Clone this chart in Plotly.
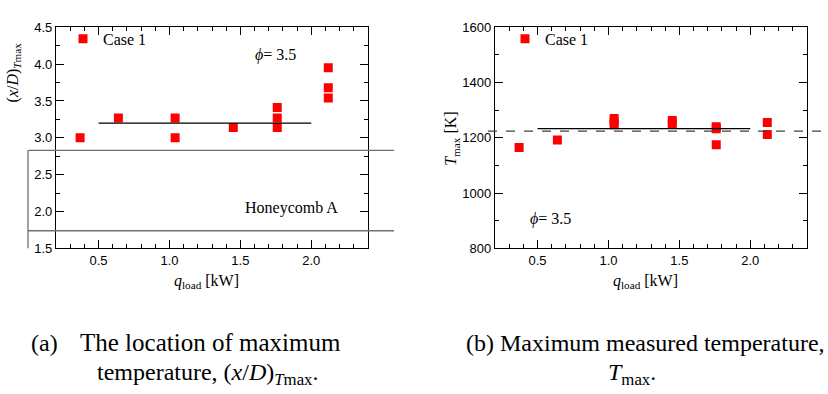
import plotly.graph_objects as go

# ---------------- data ----------------
q_load_a = [0.37, 0.64, 1.04, 1.04, 1.45, 1.76, 1.76, 1.76, 2.12, 2.12, 2.12]
xD_tmax = [3.00, 3.27, 3.27, 3.00, 3.14, 3.41, 3.27, 3.14, 3.95, 3.68, 3.54]

q_load_b = [0.37, 0.64, 1.04, 1.04, 1.04, 1.45, 1.45, 1.76, 1.76, 1.76, 2.12, 2.12]
T_max = [1165, 1192, 1270, 1258, 1247, 1263, 1250, 1240, 1233, 1175, 1255, 1212]

fit_q = [0.5, 2.0]
xD_fit = [3.2, 3.2]
T_fit = [1233, 1233]
T_ref = 1224
honeycomb_xD = [1.74, 2.83]

SERIF = "Liberation Serif, Times New Roman, serif"
SANS = "Liberation Sans, Arial, sans-serif"
W, H = 828, 394
RED = "#ff0000"

def px_x(p):
    return p / W

def px_y(p):
    return 1 - p / H

fig = go.Figure()

fig.add_trace(go.Scatter(x=q_load_a, y=xD_tmax, mode="markers", name="Case 1",
                         marker=dict(symbol="square", size=9, color=RED),
                         xaxis="x", yaxis="y", legend="legend"))
fig.add_trace(go.Scatter(x=fit_q, y=xD_fit, mode="lines", showlegend=False,
                         line=dict(color="black", width=1.3),
                         xaxis="x", yaxis="y"))
fig.add_trace(go.Scatter(x=q_load_b, y=T_max, mode="markers", name="Case 1",
                         marker=dict(symbol="square", size=9, color=RED),
                         xaxis="x2", yaxis="y2", legend="legend2"))
fig.add_trace(go.Scatter(x=fit_q, y=T_fit, mode="lines", showlegend=False,
                         line=dict(color="black", width=1.3),
                         xaxis="x2", yaxis="y2"))

common = dict(showline=True, linecolor="black", linewidth=1.3, mirror="allticks",
              ticks="inside", ticklen=8, tickwidth=1.2, tickcolor="black",
              showgrid=False, zeroline=False,
              tickfont=dict(family=SANS, size=13, color="black"))

ydom = [px_y(251), px_y(21)]

fig.update_layout(
    width=W, height=H,
    margin=dict(l=0, r=0, t=0, b=0),
    paper_bgcolor="white", plot_bgcolor="white",
    xaxis=dict(domain=[px_x(56), px_x(368)], range=[0.2, 2.4], tick0=0.5, dtick=0.5,
               tickformat=".1f", anchor="y",
               minor=dict(dtick=0.1, ticks="inside", ticklen=4, tickcolor="black", tickwidth=1.2),
               **common),
    yaxis=dict(domain=ydom, range=[1.5, 4.5], tick0=1.5, dtick=0.5, tickformat=".1f",
               anchor="x",
               minor=dict(dtick=0.25, ticks="inside", ticklen=4, tickcolor="black", tickwidth=1.2),
               **common),
    xaxis2=dict(domain=[px_x(495), px_x(807)], range=[0.2, 2.4], tick0=0.5, dtick=0.5,
                tickformat=".1f", anchor="y2",
                minor=dict(dtick=0.1, ticks="inside", ticklen=4, tickcolor="black", tickwidth=1.2),
                **common),
    yaxis2=dict(domain=ydom, range=[800, 1600], tick0=800, dtick=200, anchor="x2",
                minor=dict(dtick=100, ticks="inside", ticklen=4, tickcolor="black", tickwidth=1.2),
                **common),
    legend=dict(x=px_x(63), y=px_y(33), xanchor="left", yanchor="middle",
                bgcolor="rgba(0,0,0,0)", font=dict(family=SERIF, size=16, color="black")),
    legend2=dict(x=px_x(505), y=px_y(33), xanchor="left", yanchor="middle",
                 bgcolor="rgba(0,0,0,0)", font=dict(family=SERIF, size=16, color="black")),
    showlegend=True,
)

# Honeycomb A bracket (left panel)
hc_line = dict(color="#707070", width=1.3)
for v in honeycomb_xD:
    fig.add_shape(type="line", xref="paper", yref="y", x0=px_x(28), x1=px_x(394),
                  y0=v, y1=v, line=hc_line)
fig.add_shape(type="line", xref="paper", yref="y", x0=px_x(28), x1=px_x(28),
              y0=1.5, y1=honeycomb_xD[1], line=hc_line)

# reference dashed line (right panel)
fig.add_shape(type="line", xref="paper", yref="y2", x0=px_x(488), x1=1.0,
              y0=T_ref, y1=T_ref, line=dict(color="#404040", width=1.3, dash="dash"))

ann = []
def note(x, y, text, size=16, xref="paper", yref="paper", xanchor="center", angle=0):
    ann.append(dict(x=x, y=y, xref=xref, yref=yref, text=text, showarrow=False,
                    xanchor=xanchor, yanchor="middle", textangle=angle,
                    font=dict(family=SERIF, size=size, color="black")))

note(1.86, 2.05, "Honeycomb A", xref="x", yref="y")
note(1.75, 4.12, "<i>ϕ</i>= 3.5", xref="x", yref="y")
note(0.59, 908, "<i>ϕ</i>= 3.5", xref="x2", yref="y2")
# axis titles
note(px_x(206), px_y(285), "<i>q</i><sub>load</sub> [kW]")
note(px_x(645), px_y(285), "<i>q</i><sub>load</sub> [kW]")
note(px_x(13), px_y(68), "(<i>x</i>/<i>D</i>)<sub><i>T</i>max</sub>", angle=-90)
note(px_x(452), px_y(137), "<i>T</i><sub>max</sub> [K]", angle=-90)
# captions
note(px_x(29), px_y(349), "(a)", size=24, xanchor="left")
note(px_x(78), px_y(349), "The location of maximum", size=25, xanchor="left")
note(px_x(95), px_y(382), "temperature, (<i>x</i>/<i>D</i>)<sub><i>T</i>max</sub>.", size=24,
     xanchor="left")
note(px_x(827), px_y(349), "(b) Maximum measured temperature,", size=24, xanchor="right")
note(px_x(632), px_y(382), "<i>T</i><sub>max</sub>.", size=24)
fig.update_layout(annotations=ann)

fig.write_html("out.html")
